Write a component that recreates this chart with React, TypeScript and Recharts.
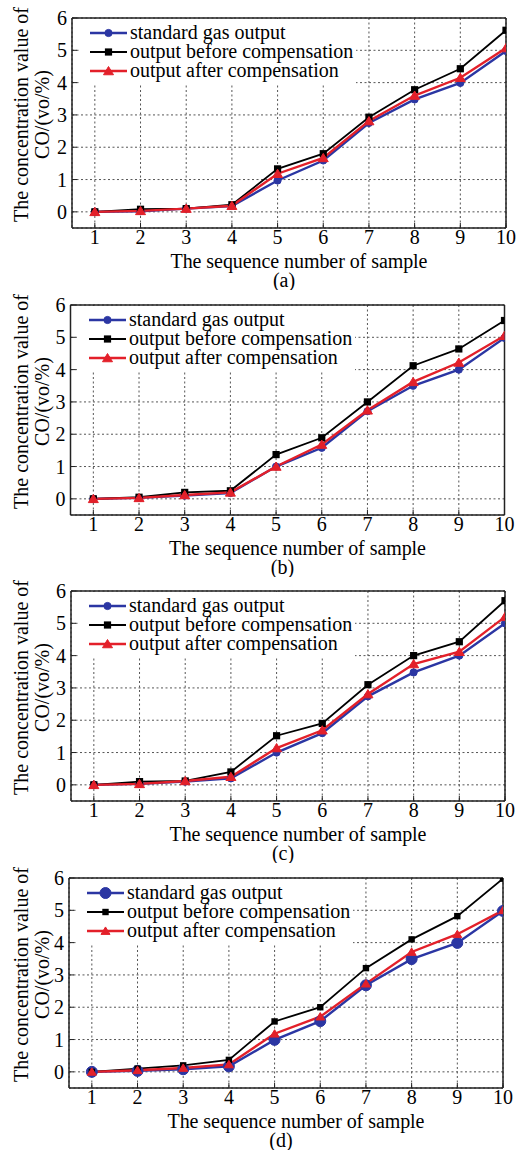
import React from 'react';
import { LineChart, Line, XAxis, YAxis, CartesianGrid, Legend } from 'recharts';

const samples = [1, 2, 3, 4, 5, 6, 7, 8, 9, 10];
const yTicks = [0, 1, 2, 3, 4, 5, 6];
const seriesNames = ['standard gas output', 'output before compensation', 'output after compensation'];
const captions = ['(a)', '(b)', '(c)', '(d)'];

const standardA = [0, 0.02, 0.1, 0.18, 0.97, 1.59, 2.75, 3.48, 3.99, 4.98];
const beforeA = [0, 0.08, 0.1, 0.22, 1.33, 1.8, 2.93, 3.78, 4.43, 5.62];
const afterA = [0, 0.03, 0.1, 0.19, 1.18, 1.67, 2.81, 3.6, 4.15, 5.07];

const standardB = [0, 0.03, 0.1, 0.18, 1.0, 1.58, 2.71, 3.5, 4.0, 4.98];
const beforeB = [0, 0.05, 0.2, 0.25, 1.37, 1.89, 3.0, 4.12, 4.64, 5.52];
const afterB = [0, 0.03, 0.12, 0.2, 1.0, 1.68, 2.74, 3.62, 4.22, 5.05];

const standardC = [0, 0.03, 0.1, 0.2, 1.0, 1.6, 2.74, 3.48, 4.0, 5.0];
const beforeC = [0, 0.1, 0.12, 0.4, 1.52, 1.9, 3.1, 4.0, 4.43, 5.7];
const afterC = [0, 0.03, 0.12, 0.25, 1.14, 1.69, 2.81, 3.74, 4.12, 5.2];

const standardD = [0, 0.03, 0.08, 0.17, 0.99, 1.57, 2.68, 3.49, 3.99, 4.98];
const beforeD = [0, 0.1, 0.2, 0.37, 1.56, 2.0, 3.21, 4.1, 4.82, 5.98];
const afterD = [0, 0.05, 0.12, 0.23, 1.18, 1.71, 2.73, 3.71, 4.26, 5.0];

const BLUE = '#2b36a3';
const BLACK = '#000';
const RED = '#e3202a';
const FONT = '"Liberation Serif", "Times New Roman", serif';

const PLOT_TOP = 18;
const PLOT_H = 210;
const PLOT_W = 434;

type Mark = 'circle' | 'square' | 'triangle';

const drawMark = (mark: Mark, cx: number, cy: number, color: string, big: boolean, key?: string) => {
  if (mark === 'circle') {
    return <circle key={key} cx={cx} cy={cy} r={big ? 5.5 : 3.6} fill={color} stroke={color} />;
  }
  if (mark === 'square') {
    const s = big ? 3.2 : 3.6;
    return <rect key={key} x={cx - s} y={cy - s} width={s * 2} height={s * 2} fill={color} />;
  }
  const w = big ? 4.5 : 5;
  return (
    <polygon
      key={key}
      points={`${cx - w},${cy + w * 0.75} ${cx + w},${cy + w * 0.75} ${cx},${cy - w * 0.9}`}
      fill={color}
      stroke={color}
      strokeWidth={1}
    />
  );
};

const seriesStyle = [
  { key: 'standard', color: BLUE, width: 2.4, mark: 'circle' as Mark },
  { key: 'before', color: BLACK, width: 1.8, mark: 'square' as Mark },
  { key: 'after', color: RED, width: 2.4, mark: 'triangle' as Mark },
];

const panels = [
  { caption: captions[0], top: 0, left: 72, big: false, values: [standardA, beforeA, afterA] },
  { caption: captions[1], top: 287, left: 70.5, big: false, values: [standardB, beforeB, afterB] },
  { caption: captions[2], top: 572.5, left: 71, big: false, values: [standardC, beforeC, afterC] },
  { caption: captions[3], top: 860, left: 69, big: true, values: [standardD, beforeD, afterD] },
];

const LegendBox = ({ big }: { big: boolean }) => (
  <svg width={276} height={66} style={{ display: 'block' }}>
    <rect x={0} y={0} width={276} height={66} fill="#fff" />
    {seriesStyle.map((s, i) => {
      const cy = 14 + i * 19;
      return (
        <g key={s.key}>
          <line x1={10} x2={47} y1={cy} y2={cy} stroke={s.color} strokeWidth={s.width} />
          {drawMark(s.mark, 28.5, cy, s.color, big)}
          <text x={50} y={cy + 5.5} fontFamily={FONT} fontSize={20} fill="#000">
            {seriesNames[i]}
          </text>
        </g>
      );
    })}
  </svg>
);

const Panel = ({ panel }: { panel: (typeof panels)[number] }) => {
  const data = samples.map((x, i) => ({
    x,
    standard: panel.values[0][i],
    before: panel.values[1][i],
    after: panel.values[2][i],
  }));
  const rightMargin = 520 - panel.left - PLOT_W - 1;
  const plotBottom = PLOT_TOP + PLOT_H;
  const axisStroke = { stroke: '#222', strokeWidth: 1.5 };
  const tickFont = { fontFamily: FONT, fontSize: 20, fill: '#000' };

  return (
    <div style={{ position: 'absolute', left: 0, top: panel.top, width: 520, height: 290 }}>
      <LineChart
        width={520}
        height={290}
        data={data}
        margin={{ top: PLOT_TOP - 1, right: rightMargin, bottom: 0, left: 0 }}
      >
        <CartesianGrid stroke="#555" strokeDasharray="2 2.5" strokeWidth={1} />
        <XAxis
          dataKey="x"
          type="number"
          domain={[0.5, 10]}
          ticks={samples}
          allowDataOverflow
          height={62}
          tickSize={-5}
          tickMargin={7}
          axisLine={axisStroke}
          tickLine={{ stroke: '#222' }}
          tick={tickFont}
          interval={0}
          label={{
            content: () => (
              <g>
                <text
                  x={panel.left + 227}
                  y={plotBottom + 39.5}
                  textAnchor="middle"
                  fontFamily={FONT}
                  fontSize={20}
                  fill="#000"
                  textLength={257}
                  lengthAdjust="spacing"
                >
                  The sequence number of sample
                </text>
                <text
                  x={panel.left + 212}
                  y={plotBottom + 59}
                  textAnchor="middle"
                  fontFamily={FONT}
                  fontSize={20}
                  fill="#000"
                >
                  {panel.caption}
                </text>
              </g>
            ),
          }}
        />
        <XAxis
          xAxisId="top"
          orientation="top"
          dataKey="x"
          type="number"
          domain={[0.5, 10]}
          ticks={samples}
          allowDataOverflow
          height={1}
          tickSize={-5}
          axisLine={axisStroke}
          tickLine={{ stroke: '#222' }}
          tick={false}
        />
        <YAxis
          type="number"
          domain={[-0.5, 6]}
          ticks={yTicks}
          allowDataOverflow
          width={panel.left}
          tickSize={-5}
          tickMargin={10}
          axisLine={axisStroke}
          tickLine={{ stroke: '#222' }}
          tick={tickFont}
          interval={0}
          label={{
            content: () => {
              const cy = PLOT_TOP + 96.5;
              return (
                <g fontFamily={FONT} fontSize={20} fill="#000">
                  <text x={28} y={cy} textAnchor="middle" transform={`rotate(-90, 28, ${cy})`}>
                    The concentration value of
                  </text>
                  <text x={49} y={cy} textAnchor="middle" transform={`rotate(-90, 49, ${cy})`}>
                    CO/(vo/%)
                  </text>
                </g>
              );
            },
          }}
        />
        <YAxis
          yAxisId="right"
          orientation="right"
          type="number"
          domain={[-0.5, 6]}
          ticks={yTicks}
          allowDataOverflow
          width={1}
          tickSize={-5}
          axisLine={axisStroke}
          tickLine={{ stroke: '#222' }}
          tick={false}
        />
        <Legend
          layout="vertical"
          align="center"
          verticalAlign="middle"
          wrapperStyle={{ left: panel.left + 8, top: PLOT_TOP + 1, width: 276, height: 66 }}
          content={() => <LegendBox big={panel.big} />}
        />
        {seriesStyle.map((s, si) => (
          <Line
            key={s.key}
            dataKey={s.key}
            name={seriesNames[si]}
            type="linear"
            stroke={s.color}
            strokeWidth={s.width}
            isAnimationActive={false}
            dot={(p: any) => drawMark(s.mark, p.cx, p.cy, s.color, panel.big, `${s.key}-${p.index}`)}
            activeDot={false}
          />
        ))}
      </LineChart>
    </div>
  );
}

export default function App() {
  return (
    <div style={{ position: 'absolute', left: 0, top: 0, width: 520, height: 1155, background: '#fff' }}>
      {panels.map((p) => (
        <Panel key={p.caption} panel={p} />
      ))}
    </div>
  );
}
